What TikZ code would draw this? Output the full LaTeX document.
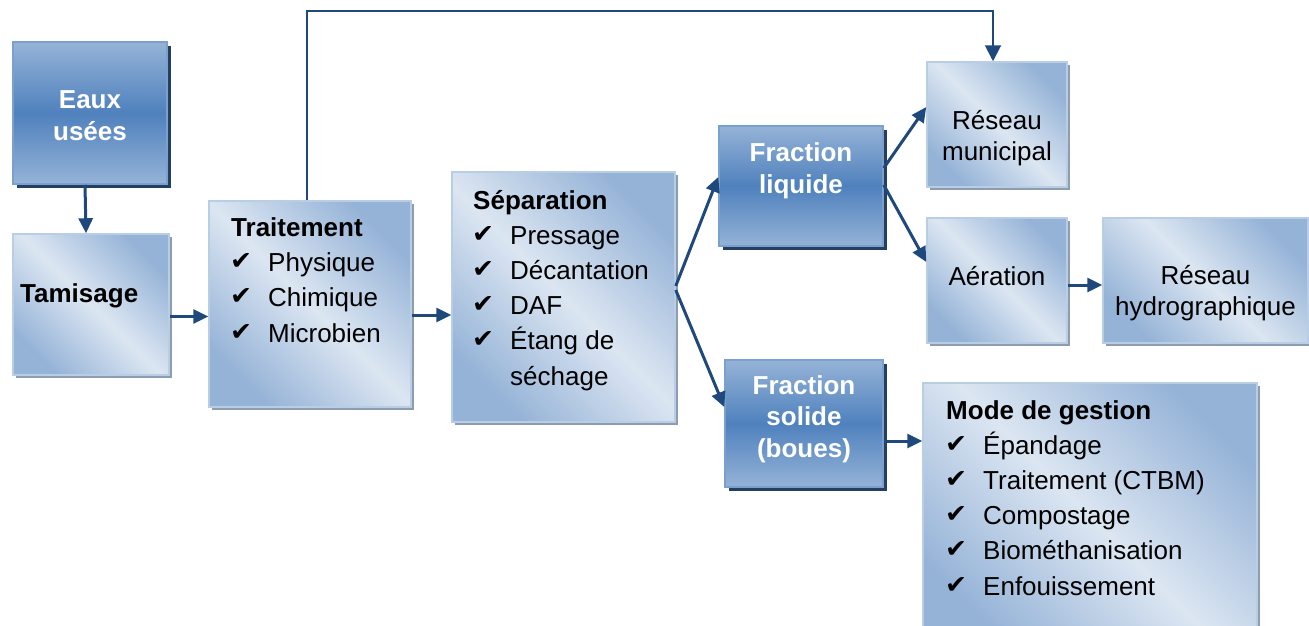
\documentclass[tikz,border=0pt]{standalone}
\usepackage{fontspec}
\setmainfont{Liberation Sans}
\newfontfamily\symfont{DejaVu Sans}
\usepackage{graphicx}
\usetikzlibrary{shadows,arrows.meta,calc}
\definecolor{lbLight}{HTML}{DCE6F2}
\definecolor{lbDark}{HTML}{95B3D7}
\definecolor{lbBorder}{HTML}{B9CDE5}
\definecolor{lbShadow}{HTML}{8E9CB0}
\definecolor{dbTop}{HTML}{95B3D7}
\definecolor{dbMid}{HTML}{4F81BD}
\definecolor{dbBorder}{HTML}{7BA0CD}
\definecolor{dbShadow}{HTML}{243F60}
\definecolor{arr}{HTML}{1F497D}
\newcommand\ck{\makebox[37pt][l]{\hspace*{-1pt}\raisebox{2pt}{\resizebox{22pt}{16pt}{\symfont ✔}}}}
\begin{document}
\begin{tikzpicture}[x=1pt,y=-1pt,
  lightbox/.style={rectangle, draw=lbBorder, line width=1.5pt,
    top color=lbDark, bottom color=lbDark, middle color=lbLight, shading angle=-45,
    drop shadow={fill=lbShadow, opacity=1, shadow xshift=3pt, shadow yshift=-3pt},
    inner sep=0pt},
  darkbox/.style={rectangle, draw=dbBorder, line width=1.5pt,
    top color=dbTop, bottom color=dbTop, middle color=dbMid,
    drop shadow={fill=dbShadow, opacity=1, shadow xshift=3.5pt, shadow yshift=-3.5pt},
    inner sep=0pt},
  lbl/.style={font=\fontsize{26}{35.2}\selectfont, align=left, inner sep=0pt},
  clbl/.style={font=\fontsize{26}{31}\selectfont, align=center, inner sep=0pt},
  wlbl/.style={font=\fontsize{26}{31.5}\selectfont\bfseries, align=center, inner sep=0pt, text=white},
  conn/.style={draw=arr, line width=3pt, -{Triangle[length=15pt,width=14pt]}},
  topconn/.style={draw=arr, line width=2pt, -{Triangle[length=16pt,width=16pt]}}
]
\useasboundingbox (0,0) rectangle (1309,625);
\fill[white] (0,0) rectangle (1309,625);

% boxes
\node[darkbox, minimum width=154pt, minimum height=142pt] (eaux) at (90,113) {};
\node[lightbox, minimum width=156pt, minimum height=141pt] (tam) at (91,304.5) {};
\node[lightbox, minimum width=202pt, minimum height=206pt] (trait) at (310,304) {};
\node[lightbox, minimum width=223pt, minimum height=250pt] (sep) at (563.5,297) {};
\node[darkbox, minimum width=164pt, minimum height=120pt] (fliq) at (801,186) {};
\node[darkbox, minimum width=158pt, minimum height=127pt] (fsol) at (804,423.5) {};
\node[lightbox, minimum width=140pt, minimum height=125pt] (resm) at (997,124.5) {};
\node[lightbox, minimum width=140pt, minimum height=125pt] (aer) at (997,280.5) {};
\node[lightbox, minimum width=205pt, minimum height=125pt] (hydro) at (1205.5,280.5) {};
\node[lightbox, minimum width=334pt, minimum height=267pt] (mode) at (1090,516.5) {};

% texts (anchor = baseline of the last line)
\node[wlbl, anchor=base] (teaux) at (90,140) {Eaux\\usées};
\node[lbl, anchor=base west] (ttam) at (20,302) {\bfseries Tamisage};
\node[lbl, anchor=base west] (ttrait) at (231,342) {\textbf{Traitement}\\\ck Physique\\\ck Chimique\\\ck Microbien};
\node[lbl, anchor=base west] (tsep) at (473,385) {\textbf{Séparation}\\\ck Pressage\\\ck Décantation\\\ck DAF\\\ck Étang de\\\hspace*{37pt}séchage};
\node[wlbl, anchor=base] (tfliq) at (801,193) {Fraction\\liquide};
\node[wlbl, anchor=base] (tfsol) at (804,457) {Fraction\\solide\\(boues)};
\node[clbl, anchor=base] (tresm) at (997,160) {Réseau\\municipal};
\node[clbl, anchor=base] (taer) at (997,285) {Aération};
\node[clbl, anchor=base] (thydro) at (1205.5,315) {Réseau\\hydrographique};
\node[lbl, anchor=base west] (tmode) at (946,595) {\textbf{Mode de gestion}\\\ck Épandage\\\ck Traitement (CTBM)\\\ck Compostage\\\ck Biométhanisation\\\ck Enfouissement};

% connectors
\coordinate (topc) at (0,11);
\draw[conn] ([xshift=-5pt]eaux.south) -- ([xshift=-5pt]tam.north);
\draw[conn] ([yshift=-12pt]tam.east) -- ([yshift=-12pt]tam.east -| trait.west);
\draw[conn] ([yshift=-11pt]trait.east) -- ([yshift=-11pt]trait.east -| sep.west);
\draw[conn] ([yshift=11pt]sep.east) -- ([yshift=9pt]fliq.west);
\draw[conn] ([yshift=7pt]sep.east) -- ([yshift=16.5pt]fsol.west);
\draw[conn] ([yshift=18pt]fliq.east) -- ([yshift=17.5pt]resm.west);
\draw[conn] ([yshift=1pt]fliq.east) -- ([yshift=18.5pt]aer.west);
\draw[conn] ([yshift=-4.5pt]aer.east) -- ([yshift=-4.5pt]aer.east -| hydro.west);
\draw[conn] ([yshift=-17.5pt]fsol.east) -- ([yshift=-17.5pt]fsol.east -| mode.west);
\draw[topconn] ([xshift=-3pt]trait.north) -- ([xshift=-3pt]trait.north |- topc) -| ([xshift=-4pt]resm.north);
\end{tikzpicture}
\end{document}
